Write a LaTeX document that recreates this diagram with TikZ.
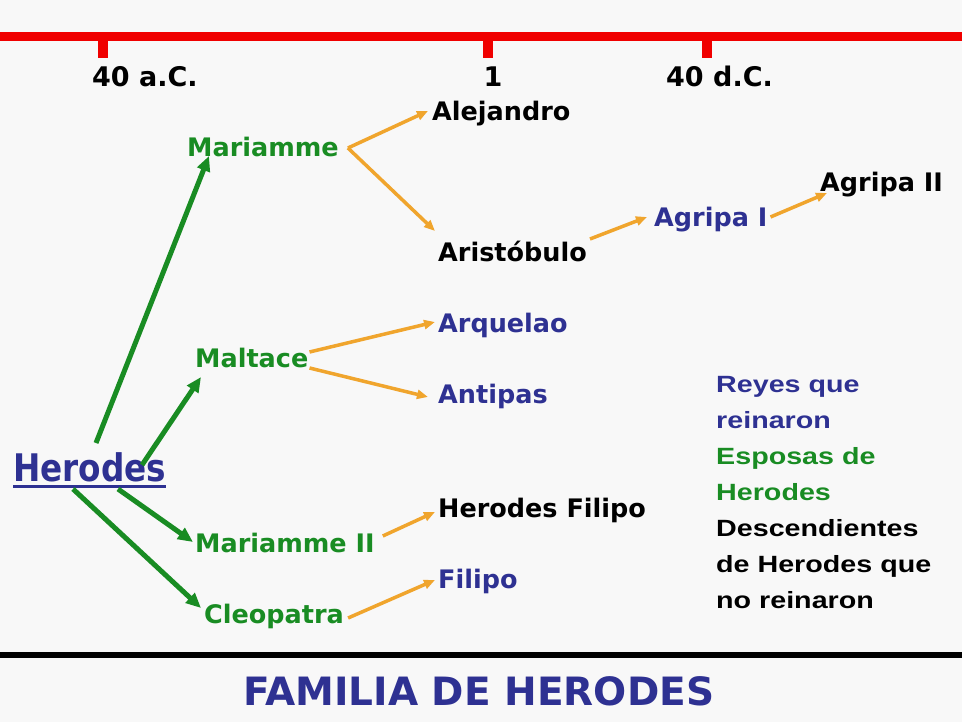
\documentclass[tikz,border=0pt]{standalone}
\usepackage{fontspec}
\setmainfont{DejaVu Sans}
\newfontfamily\legfont{Liberation Sans}[FakeStretch=1.22]
\usetikzlibrary{arrows.meta}
\definecolor{kingblue}{RGB}{46,49,146}
\definecolor{wifegreen}{RGB}{25,140,35}
\definecolor{sonorange}{RGB}{240,165,45}
\definecolor{linered}{RGB}{240,0,0}
\definecolor{paper}{RGB}{248,248,248}
\tikzset{
  person/.style={inner sep=0pt, anchor=base west, font=\bfseries\fontsize{25.5}{30}\selectfont},
  king/.style={person, text=kingblue},
  wife/.style={person, text=wifegreen},
  heir/.style={person, text=black},
  year/.style={inner sep=0pt, anchor=base west, font=\bfseries\fontsize{27}{32}\selectfont},
  wed/.style={wifegreen, line width=5pt, -{Triangle[length=15pt,width=13pt]}},
  child/.style={sonorange, line width=3.5pt, -{Triangle[length=11pt,width=9pt]}},
  legend/.style={inner sep=0pt, anchor=north west, align=left, font=\legfont\bfseries\fontsize{23.5}{36}\selectfont}
}
\begin{document}
\begin{tikzpicture}[x=1pt,y=-1pt]
\fill[paper] (0,0) rectangle (962,722);
\useasboundingbox (0,0) rectangle (962,722);
\draw[linered, line width=9pt] (0,36.5) -- (962,36.5);
\foreach \t in {103,488,707}
  \draw[linered, line width=10pt] (\t,36) -- (\t,58);
\node[year] (bc) at (92,87) {40 a.C.};
\node[year, anchor=base] (one) at (493,87) {1};
\node[year] (ad) at (666,87) {40 d.C.};
\draw[black, line width=6pt] (0,655) -- (962,655);
\node[inner sep=0pt, anchor=base west, text=kingblue, font=\bfseries\fontsize{39}{44}\selectfont] (title) at (243,705) {FAMILIA DE HERODES};

\node[person, text=kingblue, font=\bfseries\fontsize{38}{44}\selectfont] (herodes) at (13,481) {\scalebox{0.86}[1]{Herodes}};
\draw[kingblue, line width=3pt] ([yshift=-5pt]herodes.base west) -- ([yshift=-5pt]herodes.base east);

\node[wife] (mariamme) at (187,157) {Mariamme};
\node[wife] (maltace) at (195,367) {Maltace};
\node[wife] (mariammeii) at (195,552) {Mariamme II};
\node[wife] (cleopatra) at (204,623) {Cleopatra};

\node[heir] (alejandro) at (432,121) {Alejandro};
\node[heir] (aristobulo) at (438,262) {Aristóbulo};
\node[king] (agripai) at (654,227) {Agripa I};
\node[heir] (agripaii) at (820,192) {Agripa II};
\node[king] (arquelao) at (438,333) {Arquelao};
\node[king] (antipas) at (438,403) {Antipas};
\node[heir] (herodesfilipo) at (438,517) {Herodes Filipo};
\node[king] (filipo) at (438,588) {Filipo};

\draw[wed] ([xshift=83pt,yshift=38pt]herodes.base west) -- ([xshift=22pt,yshift=1pt]mariamme.base west);
\draw[wed] ([xshift=129pt,yshift=16pt]herodes.base west) -- ([xshift=6pt,yshift=-10pt]maltace.base west);
\draw[wed] ([xshift=105pt,yshift=-8pt]herodes.base west) -- ([xshift=-2pt,yshift=10pt]mariammeii.base west);
\draw[wed] ([xshift=60pt,yshift=-8pt]herodes.base west) -- ([xshift=-3pt,yshift=15pt]cleopatra.base west);

\draw[child] ([xshift=9pt,yshift=9pt]mariamme.base east) -- ([xshift=-4pt,yshift=10pt]alejandro.base west);
\draw[child] ([xshift=9pt,yshift=9pt]mariamme.base east) -- ([xshift=-3pt,yshift=31pt]aristobulo.base west);
\draw[child] ([xshift=3pt,yshift=23pt]aristobulo.base east) -- ([xshift=-7pt,yshift=10pt]agripai.base west);
\draw[child] ([xshift=3pt,yshift=10pt]agripai.base east) -- ([xshift=7pt,yshift=-1pt]agripaii.base west);
\draw[child] ([xshift=1pt,yshift=15pt]maltace.base east) -- ([xshift=-3pt,yshift=11pt]arquelao.base west);
\draw[child] ([xshift=1pt,yshift=-1pt]maltace.base east) -- ([xshift=-10pt,yshift=6pt]antipas.base west);
\draw[child] ([xshift=8pt,yshift=16pt]mariammeii.base east) -- ([xshift=-3pt,yshift=5pt]herodesfilipo.base west);
\draw[child] ([xshift=4pt,yshift=5pt]cleopatra.base east) -- ([xshift=-3pt,yshift=8pt]filipo.base west);

\node[legend] (key) at (716,376) {\textcolor{kingblue}{Reyes que}\\\textcolor{kingblue}{reinaron}\\\textcolor{wifegreen}{Esposas de}\\\textcolor{wifegreen}{Herodes}\\Descendientes\\de Herodes que\\no reinaron};
\end{tikzpicture}
\end{document}
